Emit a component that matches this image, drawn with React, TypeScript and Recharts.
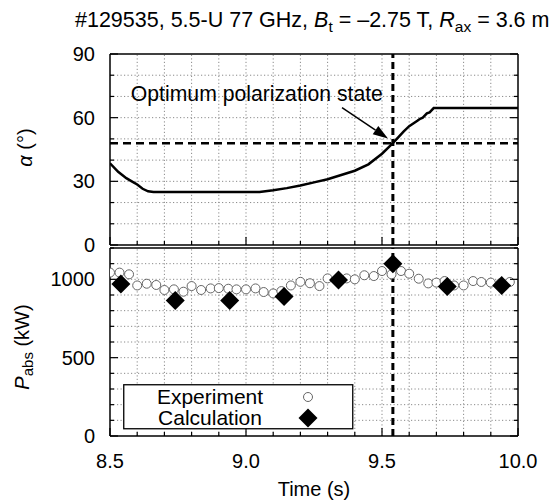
import React from 'react';
import {
  ComposedChart,
  Line,
  Scatter,
  XAxis,
  YAxis,
  ReferenceLine,
  ReferenceDot,
  Legend,
} from 'recharts';

// polarization angle vs time (top panel)
const alphaTime = [
  8.5, 8.53, 8.56, 8.58, 8.6, 8.62, 8.64, 8.66, 9.05, 9.1, 9.15, 9.2, 9.25, 9.3, 9.35, 9.4,
  9.45, 9.5, 9.54, 9.58, 9.6, 9.63, 9.64, 9.65, 9.665, 9.675, 9.69, 10.0,
];
const alphaDeg = [
  38.5, 34.5, 31.5, 30, 28.5, 26.5, 25.3, 25, 25, 25.8, 26.8, 28, 29.5, 31, 33, 35,
  38, 43, 48, 53.5, 56, 58.5, 59.5, 60, 62, 62.5, 64.5, 64.5,
];

// absorbed power (bottom panel)
const expTime = [
  8.5, 8.535, 8.57, 8.6, 8.635, 8.67, 8.7, 8.735, 8.77, 8.8, 8.835, 8.87, 8.9, 8.935, 8.965,
  9.0, 9.035, 9.065, 9.1, 9.13, 9.165, 9.2, 9.235, 9.27, 9.3, 9.335, 9.37, 9.4, 9.435, 9.47,
  9.5, 9.535, 9.57, 9.6, 9.635, 9.67, 9.7, 9.73, 9.765, 9.8, 9.835, 9.865, 9.9, 9.935, 9.97,
];
const expPower = [
  1043, 1043, 1032, 961, 972, 964, 932, 936, 921, 957, 932, 942, 944, 940, 936,
  936, 942, 919, 910, 925, 961, 984, 975, 957, 1006, 1000, 1006, 1000, 1026, 1021,
  1053, 1032, 1053, 1036, 1004, 974, 979, 989, 961, 961, 989, 983, 979, 974, 983,
];
const calcTime = [8.54, 8.74, 8.94, 9.14, 9.34, 9.54, 9.74, 9.94];
const calcPower = [970, 865, 865, 890, 995, 1100, 955, 960];

const timeTicks = [8.5, 8.6, 8.7, 8.8, 8.9, 9.0, 9.1, 9.2, 9.3, 9.4, 9.5, 9.6, 9.7, 9.8, 9.9, 10.0];
const alphaTicks = [0, 10, 20, 30, 40, 50, 60, 70, 80, 90];
const powerTicks = [0, 100, 200, 300, 400, 500, 600, 700, 800, 900, 1000, 1100, 1200];

const optimumTime = 9.54;
const optimumAlpha = 48;

const alphaData = alphaTime.map((t, i) => ({ t, alpha: alphaDeg[i] }));
const expData = expTime.map((t, i) => ({ t, p: expPower[i] }));
const calcData = calcTime.map((t, i) => ({ t, p: calcPower[i] }));

const FONT = 'Liberation Sans, Arial, Helvetica, sans-serif';

const isMajorTime = (v: number) => Math.abs(v * 2 - Math.round(v * 2)) < 1e-6;

const TimeTick = ({ x, y, payload, dir, showLabel }: any) => {
  const major = isMajorTime(payload.value);
  return (
    <g>
      <line x1={x} y1={y} x2={x} y2={y + dir * (major ? 8 : 4)} stroke="#000" strokeWidth={1.2} />
      {showLabel && major && (
        <text x={x} y={y + 32} textAnchor="middle" fontSize={20} fill="#000">
          {payload.value.toFixed(1)}
        </text>
      )}
    </g>
  );
};

const ValueTick = ({ x, y, payload, dir, step, showLabel }: any) => {
  const major = payload.value % step === 0;
  return (
    <g>
      <line x1={x} y1={y} x2={x + dir * (major ? 8 : 4)} y2={y} stroke="#000" strokeWidth={1.2} />
      {showLabel && major && (
        <text x={x - 15} y={y + 7} textAnchor="end" fontSize={20} fill="#000">
          {payload.value}
        </text>
      )}
    </g>
  );
};

const Arrow = (props: any) => {
  const { x1, y1, x2, y2 } = props;
  const ang = Math.atan2(y2 - y1, x2 - x1);
  const bx = x2 - 15 * Math.cos(ang);
  const by = y2 - 15 * Math.sin(ang);
  const px = -Math.sin(ang) * 5;
  const py = Math.cos(ang) * 5;
  return (
    <g>
      <line x1={x1} y1={y1} x2={bx} y2={by} stroke="#000" strokeWidth={1.5} />
      <polygon points={`${x2},${y2} ${bx + px},${by + py} ${bx - px},${by - py}`} fill="#000" />
    </g>
  );
};

const Diamond = ({ cx, cy }: any) => (
  <polygon points={`${cx},${cy - 9.5} ${cx + 9.5},${cy} ${cx},${cy + 9.5} ${cx - 9.5},${cy}`} fill="#000" />
);

const OpenCircle = ({ cx, cy }: any) => (
  <circle cx={cx} cy={cy} r={4.5} fill="#fff" stroke="#666" strokeWidth={1} />
);

const LegendBox = () => (
  <svg width={231} height={46} style={{ display: 'block' }}>
    <rect x={0.75} y={0.75} width={229} height={44} fill="#fff" stroke="#000" strokeWidth={1.3} />
    <text x={87} y={20} textAnchor="middle" fontSize={21} fill="#000" fontFamily={FONT}>Experiment</text>
    <text x={87} y={41} textAnchor="middle" fontSize={21} fill="#000" fontFamily={FONT}>Calculation</text>
    <OpenCircle cx={185} cy={13} />
    <Diamond cx={185} cy={34} />
  </svg>
);

const AlphaLabel = ({ viewBox }: any) => {
  const cy = viewBox.y + viewBox.height / 2 - 2;
  return (
    <text x={25} y={cy} transform={`rotate(-90 25 ${cy})`} textAnchor="middle" dominantBaseline="central" fontSize={20} fill="#000">
      <tspan fontStyle="italic">α</tspan> (°)
    </text>
  );
};

const PowerLabel = ({ viewBox }: any) => {
  const cy = viewBox.y + viewBox.height / 2 + 5;
  return (
    <text x={22} y={cy} transform={`rotate(-90 22 ${cy})`} textAnchor="middle" dominantBaseline="central" fontSize={20} fill="#000">
      <tspan fontStyle="italic">P</tspan>
      <tspan fontSize={15} dy={5}>abs</tspan>
      <tspan dy={-5}> (kW)</tspan>
    </text>
  );
};

const TimeLabel = ({ viewBox }: any) => (
  <text x={viewBox.x + viewBox.width / 2} y={viewBox.y + 60} textAnchor="middle" fontSize={20} fill="#000">
    Time (s)
  </text>
);

const Title = () => (
  <svg width={558} height={40} style={{ position: 'absolute', left: 0, top: 0 }}>
    <text x={75} y={27} fontSize={21.5} fill="#000" fontFamily={FONT}>
      #129535, 5.5-U 77 GHz, <tspan fontStyle="italic">B</tspan>
      <tspan fontSize={15.5} dy={5}>t</tspan>
      <tspan dy={-5}> = –2.75 T, </tspan>
      <tspan fontStyle="italic">R</tspan>
      <tspan fontSize={15.5} dy={5}>ax</tspan>
      <tspan dy={-5}> = 3.6 m</tspan>
    </text>
  </svg>
);

const axisLine = { stroke: '#000', strokeWidth: 1.5 };
const GRID = '#8a8a8a';
const GRID_DASH = '1.2 2.3';

// dotted grid drawn through the axis scales
const gridLines = (xs: number[], ys: number[]) => [
  ...xs.map((v) => (
    <ReferenceLine key={`gx${v}`} xAxisId="b" yAxisId="l" x={v} stroke={GRID} strokeWidth={1} strokeDasharray={GRID_DASH} />
  )),
  ...ys.map((v) => (
    <ReferenceLine key={`gy${v}`} xAxisId="b" yAxisId="l" y={v} stroke={GRID} strokeWidth={1} strokeDasharray={GRID_DASH} />
  )),
];

export default function App() {
  return (
    <div style={{ position: 'absolute', left: 0, top: 0, width: 558, height: 502, background: '#fff', fontFamily: FONT }}>
      <Title />
      <div style={{ position: 'absolute', left: 0, top: 0 }}>
        <ComposedChart width={558} height={270} margin={{ top: 53, right: 39, bottom: 24, left: 0 }}>
          <XAxis
            xAxisId="b"
            dataKey="t"
            type="number"
            domain={[8.5, 10]}
            allowDataOverflow
            ticks={timeTicks}
            interval={0}
            height={1}
            tickSize={0}
            tickMargin={0}
            tickLine={false}
            axisLine={axisLine}
            tick={(p: any) => <TimeTick {...p} dir={-1} showLabel={false} />}
          />
          <XAxis
            xAxisId="t"
            orientation="top"
            type="number"
            domain={[8.5, 10]}
            allowDataOverflow
            ticks={timeTicks}
            interval={0}
            height={1}
            tickSize={0}
            tickMargin={0}
            tickLine={false}
            axisLine={axisLine}
            tick={(p: any) => <TimeTick {...p} dir={1} showLabel={false} />}
          />
          <YAxis
            yAxisId="l"
            type="number"
            domain={[0, 90]}
            allowDataOverflow
            ticks={alphaTicks}
            interval={0}
            width={110}
            tickSize={0}
            tickMargin={0}
            tickLine={false}
            axisLine={axisLine}
            tick={(p: any) => <ValueTick {...p} dir={1} step={30} showLabel />}
            label={{ content: AlphaLabel }}
          />
          <YAxis
            yAxisId="r"
            orientation="right"
            type="number"
            domain={[0, 90]}
            allowDataOverflow
            ticks={alphaTicks}
            interval={0}
            width={1}
            tickSize={0}
            tickMargin={0}
            tickLine={false}
            axisLine={axisLine}
            tick={(p: any) => <ValueTick {...p} dir={-1} step={30} showLabel={false} />}
          />
          {gridLines(timeTicks.slice(1, -1), alphaTicks.slice(1, -1))}
          <ReferenceLine xAxisId="b" yAxisId="l" y={optimumAlpha} stroke="#000" strokeWidth={2.5} strokeDasharray="8 5" />
          <ReferenceLine xAxisId="b" yAxisId="l" x={optimumTime} stroke="#000" strokeWidth={3} strokeDasharray="7 4" />
          <Line
            xAxisId="b"
            yAxisId="l"
            data={alphaData}
            dataKey="alpha"
            type="linear"
            stroke="#000"
            strokeWidth={2.5}
            dot={false}
            activeDot={false}
            isAnimationActive={false}
          />
          <ReferenceLine
            xAxisId="b"
            yAxisId="l"
            segment={[{ x: 9.353, y: 64.7 }, { x: 9.522, y: 50.2 }]}
            shape={Arrow}
          />
          <ReferenceDot
            xAxisId="b"
            yAxisId="l"
            x={9.04}
            y={71.3}
            r={0}
            shape={(p: any) => (
              <text x={p.cx} y={p.cy} textAnchor="middle" dominantBaseline="central" fontSize={21.2} fill="#000">
                Optimum polarization state
              </text>
            )}
          />
        </ComposedChart>
      </div>
      <div style={{ position: 'absolute', left: 0, top: 246 }}>
        <ComposedChart width={558} height={256} margin={{ top: 1, right: 39, bottom: 0, left: 0 }}>
          <XAxis
            xAxisId="b"
            dataKey="t"
            type="number"
            domain={[8.5, 10]}
            allowDataOverflow
            ticks={timeTicks}
            interval={0}
            height={66}
            tickSize={0}
            tickMargin={0}
            tickLine={false}
            axisLine={axisLine}
            tick={(p: any) => <TimeTick {...p} dir={-1} showLabel />}
            label={{ content: TimeLabel }}
          />
          <XAxis
            xAxisId="t"
            orientation="top"
            type="number"
            domain={[8.5, 10]}
            allowDataOverflow
            ticks={timeTicks}
            interval={0}
            height={1}
            tickSize={0}
            tickMargin={0}
            tickLine={false}
            axisLine={axisLine}
            tick={(p: any) => <TimeTick {...p} dir={1} showLabel={false} />}
          />
          <YAxis
            yAxisId="l"
            type="number"
            domain={[0, 1200]}
            allowDataOverflow
            ticks={powerTicks}
            interval={0}
            width={110}
            tickSize={0}
            tickMargin={0}
            tickLine={false}
            axisLine={axisLine}
            tick={(p: any) => <ValueTick {...p} dir={1} step={500} showLabel />}
            label={{ content: PowerLabel }}
          />
          <YAxis
            yAxisId="r"
            orientation="right"
            type="number"
            domain={[0, 1200]}
            allowDataOverflow
            ticks={powerTicks}
            interval={0}
            width={1}
            tickSize={0}
            tickMargin={0}
            tickLine={false}
            axisLine={axisLine}
            tick={(p: any) => <ValueTick {...p} dir={-1} step={500} showLabel={false} />}
          />
          {gridLines(timeTicks.slice(1, -1), powerTicks.slice(1, -1))}
          <ReferenceLine xAxisId="b" yAxisId="l" x={optimumTime} stroke="#000" strokeWidth={3} strokeDasharray="7 4" />
          <Scatter
            xAxisId="b"
            yAxisId="l"
            name="Experiment"
            data={expData}
            dataKey="p"
            shape={OpenCircle}
            isAnimationActive={false}
          />
          <Scatter
            xAxisId="b"
            yAxisId="l"
            name="Calculation"
            data={calcData}
            dataKey="p"
            shape={Diamond}
            isAnimationActive={false}
          />
          <Legend
            layout="horizontal"
            verticalAlign="middle"
            align="center"
            wrapperStyle={{ position: 'absolute', left: 123, top: 138, width: 231, height: 46 }}
            content={LegendBox}
          />
        </ComposedChart>
      </div>
    </div>
  );
}
